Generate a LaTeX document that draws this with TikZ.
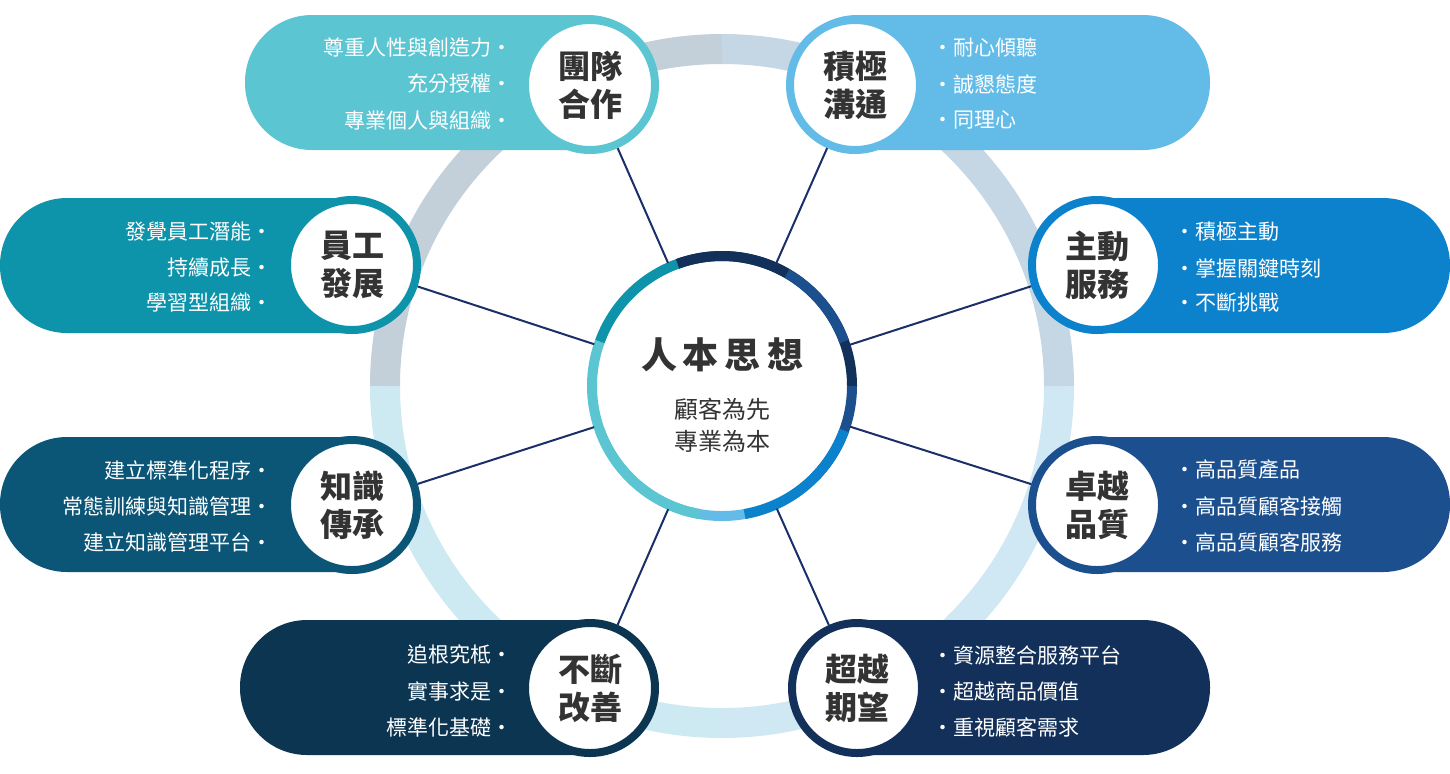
\documentclass[tikz,border=0pt]{standalone}
\usepackage{fontspec}
\setmainfont{Noto Sans CJK TC}
\begin{document}
\begin{tikzpicture}[x=0.5pt,y=-0.5pt,
  pill/.style={rounded corners=67pt*0.5,minimum width=0},
  lab/.style={circle,fill=white,draw=#1,line width=4pt,minimum size=122pt*0.5+4pt,inner sep=0pt,font=\fontsize{16}{19}\selectfont\bfseries,align=center,text=black!80},
  itm/.style={font=\fontsize{10.5}{12}\selectfont,text=white},
  con/.style={draw=conn,line width=1pt}]
\definecolor{cA}{HTML}{5BC5D2}\definecolor{cB}{HTML}{63BCE8}
\definecolor{cC}{HTML}{0D93AA}\definecolor{cD}{HTML}{0D82CC}
\definecolor{cE}{HTML}{0B5577}\definecolor{cF}{HTML}{1B4F8E}
\definecolor{cG}{HTML}{0B3550}\definecolor{cH}{HTML}{12305A}
\definecolor{conn}{HTML}{1A2F6A}
\useasboundingbox (0,0) rectangle (1450,773);
% ring
\coordinate (O) at (722,386);
\draw[line width=15pt,color={rgb,255:red,205;green,234;blue,242}] (O) ++(90:337) arc (90:180:337);
\draw[line width=15pt,color={rgb,255:red,208;green,232;blue,244}] (O) ++(0:337) arc (0:90:337);
\draw[line width=15pt,color={rgb,255:red,197;green,214;blue,228}] (O) ++(270:337) arc (270:360:337);
\draw[line width=15pt,color={rgb,255:red,195;green,208;blue,218}] (O) ++(180:337) arc (180:270:337);
% pills
\fill[cA,rounded corners=33.5pt] (245,15) rectangle (655,150);
\fill[cB,rounded corners=33.5pt] (790,15) rectangle (1210,150);
\fill[cC,rounded corners=33.5pt] (0,198) rectangle (420,333);
\fill[cD,rounded corners=33.5pt] (1030,198) rectangle (1450,333);
\fill[cE,rounded corners=33.5pt] (0,437) rectangle (420,572);
\fill[cF,rounded corners=33.5pt] (1030,437) rectangle (1450,572);
\fill[cG,rounded corners=33.5pt] (240,620) rectangle (655,755);
\fill[cH,rounded corners=33.5pt] (790,620) rectangle (1210,755);
% label circles
\node[lab=cA] (a) at (590,85) {團隊\\合作};
\node[lab=cB] (b) at (855,85) {積極\\溝通};
\node[lab=cC] (c) at (352,265) {員工\\發展};
\node[lab=cD] (d) at (1097,265) {主動\\服務};
\node[lab=cE] (e) at (352,505) {知識\\傳承};
\node[lab=cF] (f) at (1097,505) {卓越\\品質};
\node[lab=cG] (g) at (590,688) {不斷\\改善};
\node[lab=cH] (h) at (857,688) {超越\\期望};
% center
\node[circle,fill=white,minimum size=134pt,inner sep=0pt] (m) at (O) {};
\foreach \s/\e/\c in {45/135/cB,135/200/cA,200/250/cC,250/290/cE,290/330/cG,330/360/cH,0/45/cF}{
  \draw[line width=5pt,\c] (O) ++(\s:130) arc (\s:\e:130);}
\draw[line width=5pt,cD] (O) ++(20:130) arc (20:80:130);
\draw[line width=5pt,cA] (O) ++(100:130) arc (100:160:130);
\draw[line width=5pt,cH] (O) ++(250:130) arc (250:300:130);
\draw[line width=5pt,cF] (O) ++(300:130) arc (300:340:130);
\node[font=\fontsize{18}{20}\selectfont\bfseries,text=black!80] (t) at (722,355) {人\,本\,思\,想};
\node[font=\fontsize{12}{16}\selectfont,align=center,text=black!80] (s) at (722,425) {顧客為先\\專業為本};
% connectors
\foreach \n in {a,b,c,d,e,f,g,h}{\draw[con] (m) -- (\n);}
% items
\begin{scope}[every node/.style={itm}]
\node[anchor=east] at (520,48) {尊重人性與創造力・};
\node[anchor=east] at (520,84) {充分授權・};
\node[anchor=east] at (520,120) {專業個人與組織・};
\node[anchor=west] at (925,48) {・耐心傾聽};
\node[anchor=west] at (925,84) {・誠懇態度};
\node[anchor=west] at (925,120) {・同理心};
\node[anchor=east] at (280,232) {發覺員工潛能・};
\node[anchor=east] at (280,268) {持續成長・};
\node[anchor=east] at (280,303) {學習型組織・};
\node[anchor=west] at (1167,232) {・積極主動};
\node[anchor=west] at (1167,268) {・掌握關鍵時刻};
\node[anchor=west] at (1167,303) {・不斷挑戰};
\node[anchor=east] at (280,470) {建立標準化程序・};
\node[anchor=east] at (280,506) {常態訓練與知識管理・};
\node[anchor=east] at (280,542) {建立知識管理平台・};
\node[anchor=west] at (1167,470) {・高品質產品};
\node[anchor=west] at (1167,506) {・高品質顧客接觸};
\node[anchor=west] at (1167,542) {・高品質顧客服務};
\node[anchor=east] at (520,655) {追根究柢・};
\node[anchor=east] at (520,691) {實事求是・};
\node[anchor=east] at (520,727) {標準化基礎・};
\node[anchor=west] at (925,655) {・資源整合服務平台};
\node[anchor=west] at (925,691) {・超越商品價值};
\node[anchor=west] at (925,727) {・重視顧客需求};
\end{scope}
\end{tikzpicture}
\end{document}
